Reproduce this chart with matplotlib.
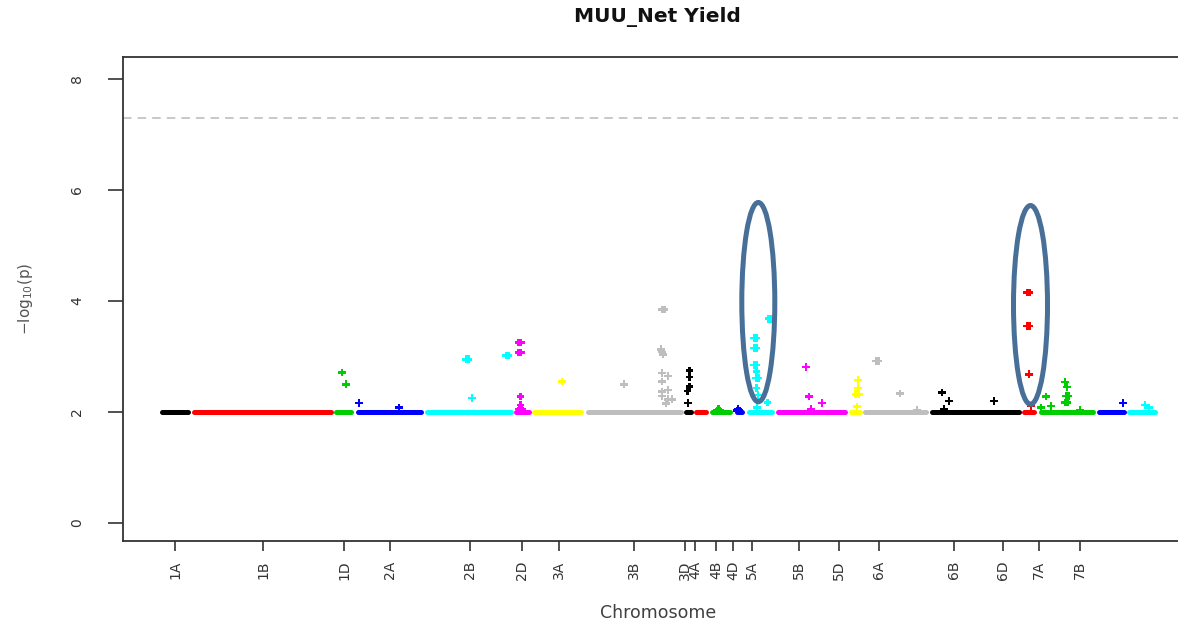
import matplotlib
matplotlib.use("Agg")
import matplotlib.pyplot as plt
from matplotlib.patches import Ellipse

# Chromosomes in plotting order and their spans on the cumulative position axis
chromosomes = ["1A", "1B", "1D", "2A", "2B", "2D", "3A", "3B", "3D", "4A", "4B",
               "4D", "5A", "5B", "5D", "6A", "6B", "6D", "7A", "7B", "7D"]
chrom_start = [2, 34, 176, 198, 267, 356, 374, 428, 526, 536, 552,
               577, 589, 618, 691, 705, 772, 864, 881, 939, 969]
chrom_end = [28, 171, 191, 261, 351, 369, 421, 521, 531, 546, 570,
             582, 612, 685, 700, 766, 859, 874, 933, 964, 995]

# Axis tick positions and labels
tick_pos = [15, 103, 184, 230, 310, 362, 399, 474, 525, 535, 556,
            573, 592, 639, 679, 719, 794, 843, 879, 920]
tick_labels = ["1A", "1B", "1D", "2A", "2B", "2D", "3A", "3B", "3D", "4A", "4B",
               "4D", "5A", "5B", "5D", "6A", "6B", "6D", "7A", "7B"]

# Markers with p <= 0.01 form a dense band at -log10(p) = 2
baseline_logp = 2.0
genome_wide_line = 7.3

# Markers rising above the band
hit_chrom = (["1D"] * 2 + ["2A"] * 2 + ["2B"] * 5 + ["2D"] * 9 + ["3A"] * 1 +
             ["3B"] * 15 + ["3D"] * 5 + ["4B"] * 3 + ["4D"] * 3 + ["5A"] * 15 +
             ["5B"] * 4 + ["5D"] * 5 + ["6A"] * 4 + ["6B"] * 4 + ["6D"] * 6 +
             ["7A"] * 10 + ["7B"] * 1 + ["7D"] * 2)
hit_pos = [182, 186,
           199, 239,
           306, 308.5, 312, 346, 348.5,
           358.5, 361, 358.5, 361, 360.5, 360.5, 359, 362, 360.5,
           402,
           464, 502, 504.5, 501, 502, 503, 502, 508, 502, 508, 502, 502, 508, 512, 506,
           529.5, 529.5, 529.5, 527.5, 528,
           558.5, 557, 560,
           578, 577, 579.5,
           608.5, 611, 594, 596.5, 594, 596.5, 594, 596.5, 596.5, 596, 598.5, 596.5, 598, 607.5, 597,
           646, 649, 662, 651,
           698, 698, 695.5, 699, 697,
           716, 718.5, 740, 757,
           782, 789, 784, 834,
           867, 869.5, 867, 869.5, 869, 871,
           881, 886, 891, 905, 907, 906, 908.5, 905, 907.5, 920,
           963,
           985, 989]
hit_logp = [2.71, 2.50,
            2.16, 2.08,
            2.95, 2.95, 2.25, 3.02, 3.02,
            3.25, 3.25, 3.07, 3.07, 2.28, 2.13, 2.05, 2.05, 2.07,
            2.55,
            2.50, 3.85, 3.85, 3.13, 3.08, 3.04, 2.70, 2.65, 2.55, 2.40, 2.37, 2.29, 2.23, 2.23, 2.15,
            2.75, 2.63, 2.46, 2.38, 2.16,
            2.05, 2.03, 2.03,
            2.05, 2.03, 2.03,
            3.68, 3.68, 3.33, 3.33, 3.15, 3.15, 2.85, 2.85, 2.73, 2.61, 2.61, 2.43, 2.31, 2.17, 2.08,
            2.81, 2.28, 2.16, 2.05,
            2.58, 2.43, 2.32, 2.32, 2.10,
            2.92, 2.92, 2.33, 2.04,
            2.35, 2.20, 2.05, 2.20,
            4.15, 4.15, 3.55, 3.55, 2.68, 2.11,
            2.08, 2.28, 2.11, 2.54, 2.45, 2.29, 2.29, 2.17, 2.17, 2.04,
            2.16,
            2.13, 2.08]

# Highlighted QTL regions (5A and 6D)
highlight_pos = [598.3, 870.5]
highlight_logp = [3.98, 3.93]
highlight_width = [33, 34]
highlight_height = [3.59, 3.58]

palette = ["#000000", "#FF0000", "#00CD00", "#0000FF",
           "#00FFFF", "#FF00FF", "#FFFF00", "#BEBEBE"]
chrom_color = {c: palette[i % len(palette)] for i, c in enumerate(chromosomes)}

fig = plt.figure(figsize=(11.78, 6.26), dpi=100)
ax = fig.add_axes([123 / 1178, 85 / 626, 1074 / 1178, 484 / 626])

# Dense band of markers per chromosome
ax.hlines([baseline_logp] * len(chromosomes), chrom_start, chrom_end,
          colors=[chrom_color[c] for c in chromosomes], linewidth=3.6,
          capstyle="round", zorder=2)

# Individual markers
ax.scatter(hit_pos, hit_logp, c=[chrom_color[c] for c in hit_chrom],
           marker="P", s=30, linewidths=0, zorder=3)

# Genome-wide significance threshold
ax.axhline(genome_wide_line, color="#c8c8c8", linewidth=1.4,
           dashes=(4.4, 3.1), zorder=1)

for x, y, w, h in zip(highlight_pos, highlight_logp, highlight_width, highlight_height):
    ax.add_patch(Ellipse((x, y), w, h, fill=False, edgecolor="#476f98",
                         linewidth=3.6, zorder=4))

ax.set_xlim(-37, 1037)
ax.set_ylim(-0.324, 8.396)

ax.set_xticks(tick_pos)
ax.set_xticklabels(tick_labels, rotation=90, fontsize=10, color="#333333")
ax.set_yticks([0, 2, 4, 6, 8])
ax.set_yticklabels(["0", "2", "4", "6", "8"], rotation=90, fontsize=10,
                   color="#333333", va="center")
ax.tick_params(axis="x", length=7, width=1.2, color="#333333", pad=7)
ax.tick_params(axis="y", length=11, width=1.2, color="#333333", pad=17)

for side in ["left", "bottom", "top"]:
    ax.spines[side].set_color("#333333")
    ax.spines[side].set_linewidth(1.3)
ax.spines["right"].set_visible(False)

ax.set_xlabel("Chromosome", fontsize=12.5, color="#404040")
ax.xaxis.set_label_coords(0.498, -0.149)
ax.xaxis.label.set_va("center")
ax.set_ylabel(r"$-\mathrm{log}_{10}\mathrm{(p)}$", fontsize=11, color="#555555")
ax.yaxis.set_label_coords(-0.0912, 0.5)
ax.yaxis.label.set_va("center")

fig.text(657 / 1178, 1 - 17 / 626, "MUU_Net Yield", ha="center", va="center",
         fontsize=14.5, fontweight="bold", color="#111111")

fig.savefig("out.png", dpi=100)
